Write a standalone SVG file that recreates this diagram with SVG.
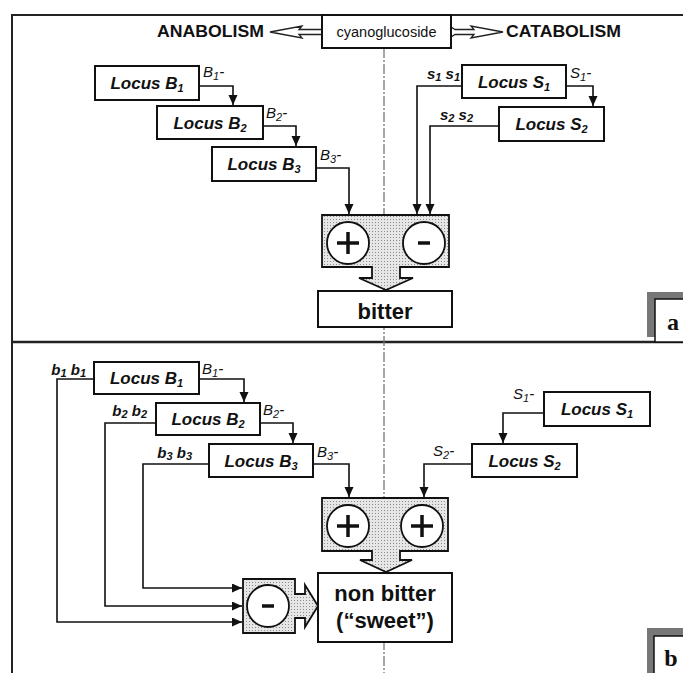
<svg xmlns="http://www.w3.org/2000/svg" width="683" height="673" viewBox="0 0 683 673">
<style>
.frame{fill:none;stroke:#222;stroke-width:2}
.box{fill:#fff;stroke:#111;stroke-width:2}
.conn{fill:none;stroke:#111;stroke-width:1.6}
.arr{marker-end:url(#ah)}
.locus{font-family:"Liberation Sans",Arial,sans-serif;font-weight:bold;font-style:italic;font-size:17px;text-anchor:middle;fill:#111}
.lab{font-family:"Liberation Sans",Arial,sans-serif;font-style:italic;font-size:15px;fill:#111}
.labb{font-family:"Liberation Sans",Arial,sans-serif;font-style:italic;font-weight:bold;font-size:15px;fill:#111;text-anchor:end}
.big{font-family:"Liberation Sans",Arial,sans-serif;font-weight:bold;font-size:17px;fill:#111}
.res{font-family:"Liberation Sans",Arial,sans-serif;font-weight:bold;font-size:22px;text-anchor:middle;fill:#111}
.shade{fill:url(#dots);stroke:#111;stroke-width:1.8}
.circ{fill:#fff;stroke:#111;stroke-width:1.8}
.sign{stroke:#111;stroke-width:3.5;fill:none}
.panel{font-family:"Liberation Serif","Times New Roman",serif;font-weight:bold;font-size:24px;fill:#111;text-anchor:middle}
.center{stroke:#777;stroke-width:1.3;stroke-dasharray:10 2 2 2;fill:none}
.openarr{fill:#fff;stroke:#222;stroke-width:1.3}
</style>
<defs>
<pattern id="dots" width="3" height="3" patternUnits="userSpaceOnUse">
<rect width="3" height="3" fill="#e6e6e6"/>
<rect width="1" height="1" fill="#8c8c8c"/>
</pattern>
<marker id="ah" markerUnits="userSpaceOnUse" markerWidth="10" markerHeight="10" refX="10" refY="4.5" orient="auto">
<path d="M0,0 L10,4.5 L0,9 z" fill="#111"/>
</marker>
</defs>
<rect width="683" height="673" fill="#fff"/>
<g id="frame">
<path class="frame" d="M683,15 H12 V673"/>
<line x1="12" y1="342" x2="683" y2="342" stroke="#222" stroke-width="2.5"/>
<line class="center" x1="384" y1="48" x2="384" y2="673"/>
</g>
<g id="header">
<text class="big" x="157" y="37" textLength="107" lengthAdjust="spacingAndGlyphs">ANABOLISM</text>
<text class="big" x="506" y="37" textLength="115" lengthAdjust="spacingAndGlyphs">CATABOLISM</text>
<polygon class="openarr" points="270,32 302,26 299,29.5 322,29.5 322,34.5 299,34.5 302,38"/>
<polygon class="openarr" points="503,32 471,26 474,29.5 455,29.5 451,27 451,37 455,34.5 474,34.5 471,38"/>
</g>
<g id="cyanoglucoside">
<rect class="box" x="322" y="15" width="129" height="33"/>
<text x="386.5" y="37" font-family="Liberation Sans,Arial,sans-serif" font-size="14" text-anchor="middle" fill="#111" textLength="100" lengthAdjust="spacingAndGlyphs">cyanoglucoside</text>
</g>
<g id="connectors">
<path class="conn arr" d="M199,86 H233 V105"/>
<path class="conn arr" d="M263,126 H296 V146"/>
<path class="conn arr" d="M316,168 H349 V214"/>
<path class="conn arr" d="M462,86 H417 V214"/>
<path class="conn arr" d="M566,86 H593 V106"/>
<path class="conn arr" d="M499,126 H430 V214"/>
<path class="conn arr" d="M94,379 H57 V622 H242"/>
<path class="conn arr" d="M199,379 H244 V402"/>
<path class="conn arr" d="M156,423 H105 V606 H242"/>
<path class="conn arr" d="M260,423 H293 V443"/>
<path class="conn arr" d="M209,464 H143 V588 H242"/>
<path class="conn arr" d="M313,464 H349 V497"/>
<path class="conn arr" d="M544,413 H503 V443"/>
<path class="conn arr" d="M472,464 H424 V497"/>
</g>
<g id="a-locusB1">
<rect class="box" x="95" y="66" width="104" height="34"/>
<text class="locus" x="147" y="89">Locus B<tspan font-size="11" dy="3">1</tspan></text>
</g>
<g id="a-locusB2">
<rect class="box" x="157" y="106" width="106" height="33"/>
<text class="locus" x="210" y="129">Locus B<tspan font-size="11" dy="3">2</tspan></text>
</g>
<g id="a-locusB3">
<rect class="box" x="212" y="147" width="104" height="34"/>
<text class="locus" x="264" y="170">Locus B<tspan font-size="11" dy="3">3</tspan></text>
</g>
<g id="a-locusS1">
<rect class="box" x="462" y="65" width="104" height="33"/>
<text class="locus" x="514" y="88">Locus S<tspan font-size="11" dy="3">1</tspan></text>
</g>
<g id="a-locusS2">
<rect class="box" x="499" y="107" width="105" height="34"/>
<text class="locus" x="551.5" y="130">Locus S<tspan font-size="11" dy="3">2</tspan></text>
</g>
<g id="a-labels">
<text class="lab" x="203" y="77">B<tspan font-size="11" dy="3">1</tspan><tspan dy="-3">-</tspan></text>
<text class="lab" x="266" y="118">B<tspan font-size="11" dy="3">2</tspan><tspan dy="-3">-</tspan></text>
<text class="lab" x="320" y="160">B<tspan font-size="11" dy="3">3</tspan><tspan dy="-3">-</tspan></text>
<text class="lab" x="570" y="78">S<tspan font-size="11" dy="3">1</tspan><tspan dy="-3">-</tspan></text>
<text class="labb" x="460" y="79">s<tspan font-size="11" dy="2">1</tspan><tspan dy="-2"> s</tspan><tspan font-size="11" dy="2">1</tspan></text>
<text class="labb" x="473" y="120">s<tspan font-size="11" dy="2">2</tspan><tspan dy="-2"> s</tspan><tspan font-size="11" dy="2">2</tspan></text>
</g>
<g id="a-effect">
<polygon class="shade" points="322,215 449,215 449,267 400,267 400,278 413,278 386,290 359,278 372,278 372,267 322,267"/>
<circle class="circ" cx="348" cy="243" r="21"/>
<path class="sign" d="M337,243 H359 M348,232 V254"/>
<circle class="circ" cx="424" cy="243" r="21"/>
<path class="sign" d="M418,243 H430"/>
</g>
<g id="a-bitter">
<rect class="box" x="318" y="291" width="134" height="36"/>
<text class="res" x="385" y="319">bitter</text>
</g>
<g id="a-tag">
<rect x="647" y="292" width="40" height="45" fill="#777"/>
<rect x="655" y="299" width="32" height="43" fill="#fff" stroke="#111" stroke-width="1.5"/>
<text class="panel" x="673" y="330">a</text>
</g>
<g id="b-locusB1">
<rect class="box" x="94" y="362" width="105" height="32"/>
<text class="locus" x="146.5" y="384">Locus B<tspan font-size="11" dy="3">1</tspan></text>
</g>
<g id="b-locusB2">
<rect class="box" x="156" y="403" width="104" height="32"/>
<text class="locus" x="208" y="425">Locus B<tspan font-size="11" dy="3">2</tspan></text>
</g>
<g id="b-locusB3">
<rect class="box" x="209" y="444" width="104" height="33"/>
<text class="locus" x="261" y="467">Locus B<tspan font-size="11" dy="3">3</tspan></text>
</g>
<g id="b-locusS1">
<rect class="box" x="544" y="392" width="106" height="34"/>
<text class="locus" x="597" y="415">Locus S<tspan font-size="11" dy="3">1</tspan></text>
</g>
<g id="b-locusS2">
<rect class="box" x="472" y="444" width="105" height="33"/>
<text class="locus" x="524.5" y="467">Locus S<tspan font-size="11" dy="3">2</tspan></text>
</g>
<g id="b-labels">
<text class="labb" x="86" y="375">b<tspan font-size="11" dy="2">1</tspan><tspan dy="-2"> b</tspan><tspan font-size="11" dy="2">1</tspan></text>
<text class="labb" x="147" y="416">b<tspan font-size="11" dy="2">2</tspan><tspan dy="-2"> b</tspan><tspan font-size="11" dy="2">2</tspan></text>
<text class="labb" x="192" y="458">b<tspan font-size="11" dy="2">3</tspan><tspan dy="-2"> b</tspan><tspan font-size="11" dy="2">3</tspan></text>
<text class="lab" x="202" y="374">B<tspan font-size="11" dy="3">1</tspan><tspan dy="-3">-</tspan></text>
<text class="lab" x="263" y="415">B<tspan font-size="11" dy="3">2</tspan><tspan dy="-3">-</tspan></text>
<text class="lab" x="317" y="457">B<tspan font-size="11" dy="3">3</tspan><tspan dy="-3">-</tspan></text>
<text class="lab" x="513" y="399">S<tspan font-size="11" dy="3">1</tspan><tspan dy="-3">-</tspan></text>
<text class="lab" x="433" y="456">S<tspan font-size="11" dy="3">2</tspan><tspan dy="-3">-</tspan></text>
</g>
<g id="b-plus">
<polygon class="shade" points="322,498 448,498 448,551 400,551 400,560 412,560 386,572 360,560 372,560 372,551 322,551"/>
<circle class="circ" cx="348" cy="526" r="21"/>
<path class="sign" d="M337,526 H359 M348,515 V537"/>
<circle class="circ" cx="422" cy="526" r="21"/>
<path class="sign" d="M411,526 H433 M422,515 V537"/>
</g>
<g id="b-minus">
<polygon class="shade" points="243,579 295,579 295,594 305,594 305,585 318,606 305,627 305,618 295,618 295,633 243,633"/>
<circle class="circ" cx="268" cy="606" r="21"/>
<path class="sign" d="M262,606 H274"/>
</g>
<g id="b-nonbitter">
<rect class="box" x="318" y="573" width="134" height="69"/>
<text class="res" x="385" y="601">non bitter</text>
<text class="res" x="385" y="628">(“sweet”)</text>
</g>
<g id="b-tag">
<rect x="647" y="628" width="40" height="50" fill="#777"/>
<rect x="654" y="636" width="33" height="42" fill="#fff" stroke="#111" stroke-width="1.5"/>
<text class="panel" x="671" y="666">b</text>
</g>
</svg>
